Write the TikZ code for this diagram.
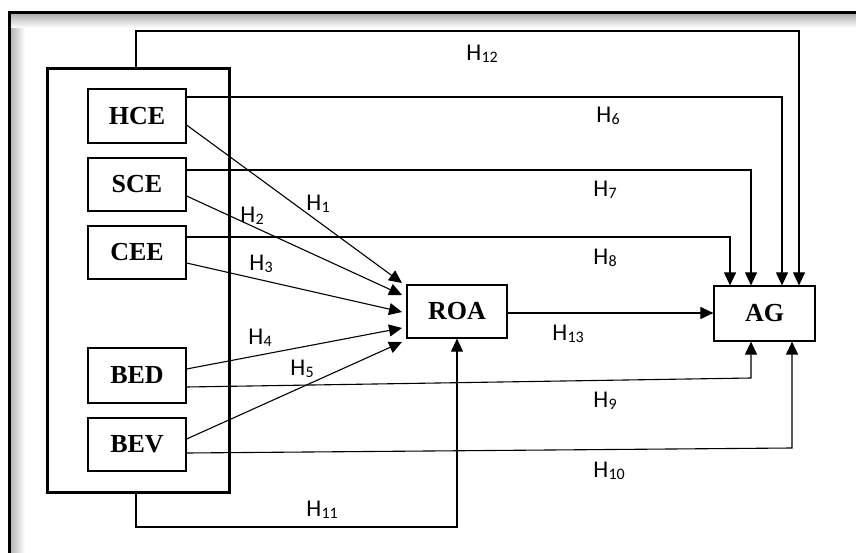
\documentclass[tikz,border=0pt]{standalone}
\usepackage{fontspec}
\setmainfont{Liberation Serif}
\newfontfamily\lblfont{Carlito}
\usetikzlibrary{arrows.meta}
\newcommand\hy[1]{H\kern0.3pt\raisebox{-2.5pt}{\fontsize{16}{16}\selectfont #1}}
\begin{document}
\begin{tikzpicture}[x=1pt,y=-1pt,
  var/.style={draw, line width=1.2pt, minimum width=98pt, minimum height=54pt, inner sep=0pt, anchor=center,
    font=\fontsize{26}{28}\selectfont\bfseries},
  lbl/.style={font=\lblfont\fontsize{24}{26}\selectfont, inner sep=0pt, text=black},
  link/.style={line width=1.1pt},
  arr/.style={line width=1.1pt, -{Triangle[length=13pt,width=12pt]}}]
\useasboundingbox (0,0) rectangle (856,553);
% frame with inner shadow
\shade[left color=black!30, right color=white] (10,13) rectangle (25,553);
\shade[top color=black!30, bottom color=white] (10,14) rectangle (856,28);
\draw[line width=3pt] (9,553) -- (9,13) -- (856,13);

% group box
\node[draw, line width=3pt, minimum width=182pt, minimum height=423pt, inner sep=0pt] (grp) at (138,280.5) {};
% variables
\node[var] (hce) at (137,116) {HCE};
\node[var, minimum height=53pt] (sce) at (137,184.5) {SCE};
\node[var, minimum height=53pt] (cee) at (137,252.5) {CEE};
\node[var, minimum height=55pt] (bed) at (137,375.5) {BED};
\node[var, minimum height=53pt] (bev) at (137,444.5) {BEV};
\node[var, minimum width=100pt, minimum height=53pt] (roa) at (457,311.5) {ROA};
\node[var, minimum width=101pt, minimum height=55pt] (ag) at (764.5,313.5) {AG};

% arrow targets at ROA
\coordinate (t1) at (402,283);
\coordinate (t2) at (402,295);
\coordinate (t3) at (402,312);
\coordinate (t4) at (402,328);
\coordinate (t5) at (402,342);

\draw[arr] (hce.east |- 0,125) -- (t1);
\draw[arr] (sce.east |- 0,196) -- (t2);
\draw[arr] (cee.east |- 0,263) -- (t3);
\draw[arr] (bed.east |- 0,369) -- (t4);
\draw[arr] (bev.east |- 0,439) -- (t5);

% direct to AG
\draw[arr] (grp.north -| 136,0) -- (136,31) -| (799,0 |- ag.north);
\draw[arr] (hce.east |- 0,97) -| (782,0 |- ag.north);
\draw[arr] (sce.east |- 0,170) -| (751,0 |- ag.north);
\draw[arr] (cee.east |- 0,237) -| (730,0 |- ag.north);
\draw[arr] (bed.east |- 0,387) -- (751,378) -- (751,0 |- ag.south);
\draw[arr] (bev.east |- 0,453) -- (792,448) -- (792,0 |- ag.south);
\draw[arr] (grp.south -| 136,0) -- (136,527) -| (roa.south);
\draw[arr] (roa.east |- 0,313) -- (ag.west |- 0,313);

% labels
\node[lbl] at (318,204) {\hy{1}};
\node[lbl] at (252,216) {\hy{2}};
\node[lbl] at (261,264) {\hy{3}};
\node[lbl] at (260,338) {\hy{4}};
\node[lbl] at (302,369) {\hy{5}};
\node[lbl] at (608,116) {\hy{6}};
\node[lbl] at (605,190) {\hy{7}};
\node[lbl] at (605,258) {\hy{8}};
\node[lbl] at (605,401) {\hy{9}};
\node[lbl] at (609,471) {\hy{10}};
\node[lbl] at (322,510) {\hy{11}};
\node[lbl] at (482,54) {\hy{12}};
\node[lbl] at (568,334) {\hy{13}};
\end{tikzpicture}
\end{document}
